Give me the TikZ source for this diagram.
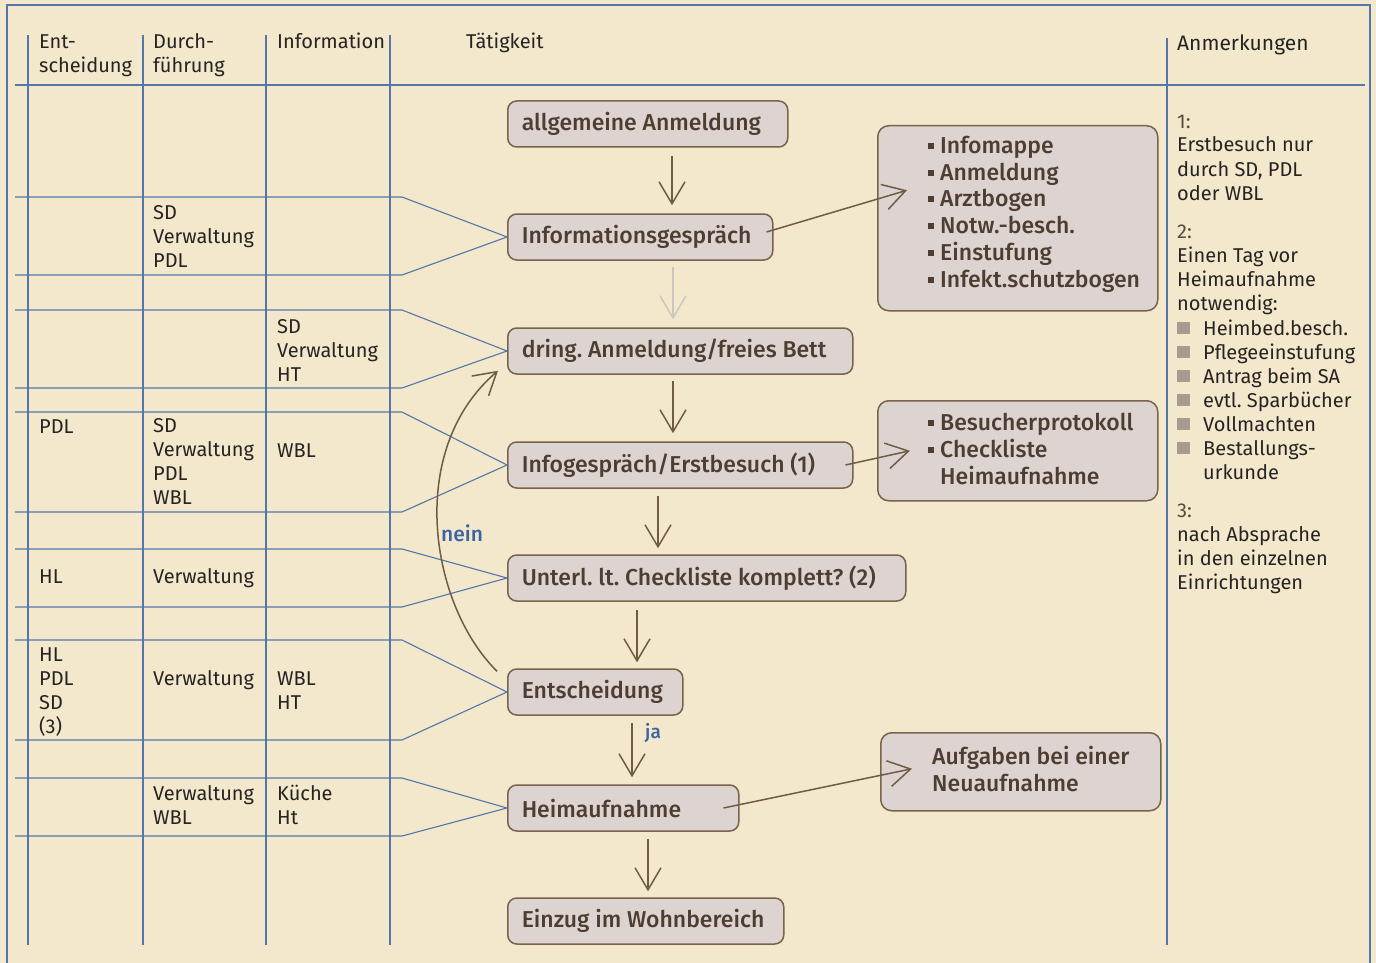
\documentclass[tikz,border=0pt]{standalone}
\usepackage{fontspec}
\setmainfont{Fira Sans}
\newfontfamily\boxfont{Fira Sans Medium}
\usetikzlibrary{arrows.meta}
\definecolor{bg}{RGB}{243,231,204}
\definecolor{gridblue}{RGB}{84,118,172}
\definecolor{boxfill}{RGB}{221,212,210}
\definecolor{boxline}{RGB}{120,100,76}
\definecolor{boxtext}{RGB}{78,62,50}
\definecolor{tabtext}{RGB}{38,36,34}
\definecolor{arrowc}{RGB}{112,92,68}
\definecolor{labblue}{RGB}{60,100,165}
\definecolor{sqc}{RGB}{168,154,142}
\definecolor{numc}{RGB}{92,74,56}
\newcommand\boxtxt[2]{\makebox[#1][l]{#2}}
\begin{document}
\frenchspacing
\begin{tikzpicture}[x=1pt,y=-1pt,
  grid/.style={draw=gridblue, line width=1.1pt},
  tab/.style={anchor=base west, inner sep=0pt, font=\fontsize{20}{24}\selectfont, text=tabtext, align=left},
  note/.style={tab, font=\fontsize{20}{24}\selectfont},
  tbox/.style={draw=boxline, fill=boxfill, rounded corners=9pt, line width=1.5pt, minimum height=46pt, anchor=west, inner xsep=14pt, font=\boxfont\fontsize{23}{26}\selectfont, text=boxtext},
  sbox/.style={draw=boxline, fill=boxfill, rounded corners=11pt, line width=1.5pt, anchor=north west, inner sep=0pt},
  stxt/.style={anchor=base west, inner sep=0pt, font=\boxfont\fontsize{23}{26.7}\selectfont, text=boxtext, align=left},
  flow/.style={draw=arrowc, line width=1.5pt, -{Straight Barb[length=22pt,width=26pt]}},
  bul/.style={fill=boxtext},
  sq/.style={fill=sqc}
]
\fill[bg] (0,0) rectangle (1376,963);
\useasboundingbox (0,0) rectangle (1376,963);

% frame and columns
\draw[grid] (7,963) -- (7,5) -- (1370,5) -- (1370,963);
\draw[grid] (15,85) -- (1365,85);
\foreach \x in {28,143,266,390} \draw[grid] (\x,35) -- (\x,945);
\draw[grid] (1167,38) -- (1167,945);

% header (base = last line)
\node[tab] (h1) at (39,73) {Ent-\\scheidung};
\node[tab] (h2) at (153,73) {Durch-\\führung};
\node[tab] (h3) at (277,49) {Information};
\node[tab] (h4) at (466,49) {Tätigkeit};
\node[tab, font=\fontsize{21}{24}\selectfont] (h5) at (1177,51) {Anmerkungen};

% main boxes
\node[tbox] (b1) at (507,124) {\boxtxt{252pt}{allgemeine Anmeldung}};
\node[tbox] (b2) at (507,237) {\boxtxt{237pt}{Informationsgespräch}};
\node[tbox] (b3) at (507,351) {\boxtxt{317pt}{dring. Anmeldung/freies Bett}};
\node[tbox] (b4) at (507,465) {\boxtxt{317pt}{Infogespräch/Erstbesuch (1)}};
\node[tbox] (b5) at (507,578) {\boxtxt{370pt}{Unterl. lt. Checkliste komplett? (2)}};
\node[tbox] (b6) at (507,692) {\boxtxt{147pt}{Entscheidung}};
\node[tbox] (b7) at (507,808) {\boxtxt{203pt}{Heimaufnahme}};
\node[tbox] (b8) at (507,921) {\boxtxt{248pt}{Einzug im Wohnbereich}};

% row connector lines
\draw[grid] (15,197) -- (402,197) -- (b2.west) -- (402,275) -- (15,275);
\draw[grid] (15,310) -- (402,310) -- (b3.west) -- (402,388) -- (15,388);
\draw[grid] (15,412) -- (402,412) -- (b4.west) -- (402,512) -- (15,512);
\draw[grid] (15,549) -- (402,549) -- (b5.west) -- (402,607) -- (15,607);
\draw[grid] (15,640) -- (402,640) -- (b6.west) -- (402,740) -- (15,740);
\draw[grid] (15,778) -- (402,778) -- (b7.west) -- (402,836) -- (15,836);

% table texts (base = last line)
\node[tab] (r2b) at (153,267) {SD\\Verwaltung\\PDL};
\node[tab] (r3c) at (277,381) {SD\\Verwaltung\\HT};
\node[tab] (r4a) at (39,433) {PDL};
\node[tab] (r4b) at (153,504) {SD\\Verwaltung\\PDL\\WBL};
\node[tab] (r4c) at (277,457) {WBL};
\node[tab] (r5a) at (39,583) {HL};
\node[tab] (r5b) at (153,583) {Verwaltung};
\node[tab] (r6a) at (39,733) {HL\\PDL\\SD\\(3)};
\node[tab] (r6b) at (153,685) {Verwaltung};
\node[tab] (r6c) at (277,709) {WBL\\HT};
\node[tab] (r7b) at (153,824) {Verwaltung\\WBL};
\node[tab] (r7c) at (277,824) {Küche\\Ht};

% side boxes
\node[sbox, minimum width=280pt, minimum height=185pt] (s1) at (877,125) {};
\node[stxt] (s1t) at (940,287) {Infomappe\\Anmeldung\\Arztbogen\\Notw.-besch.\\Einstufung\\Infekt.schutzbogen};
\foreach \y in {145,171.7,198.4,225.1,251.8,278.5} \fill[bul] (928,\y-2) rectangle (934,\y+4);
\node[sbox, minimum width=280pt, minimum height=100pt] (s2) at (877,400) {};
\node[stxt] (s2t) at (940,484) {Besucherprotokoll\\Checkliste\\Heimaufnahme};
\foreach \y in {422,448.7} \fill[bul] (928,\y-2) rectangle (934,\y+4);
\node[sbox, minimum width=280pt, minimum height=78pt] (s3) at (880,732) {};
\node[stxt] (s3t) at (932,791) {Aufgaben bei einer\\Neuaufnahme};

% flow arrows
\coordinate (ax1) at (672,0);
\coordinate (ax2) at (673,0);
\coordinate (ax3) at (673,0);
\coordinate (ax4) at (658,0);
\coordinate (ax5) at (637,0);
\coordinate (ax6) at (632,0);
\coordinate (ax7) at (648,0);
\draw[flow, shorten <=8pt, shorten >=8pt] (b1.south -| ax1) -- (b2.north -| ax1);
\draw[flow, draw=arrowc!35, shorten <=6pt, shorten >=8pt] (b2.south -| ax2) -- (b3.north -| ax2);
\draw[flow, shorten <=6pt, shorten >=8pt] (b3.south -| ax3) -- (b4.north -| ax3);
\draw[flow, shorten <=7pt, shorten >=6pt] (b4.south -| ax4) -- (b5.north -| ax4);
\draw[flow, shorten <=8pt, shorten >=6pt] (b5.south -| ax5) -- (b6.north -| ax5);
\draw[flow, shorten <=7pt, shorten >=7pt] (b6.south -| ax6) -- (b7.north -| ax6);
\draw[flow, shorten <=7pt, shorten >=6pt] (b7.south -| ax7) -- (b8.north -| ax7);

% side arrows
\draw[flow] ([shift={(-7,-5)}]b2.east) -- ([shift={(30,-28)}]s1.west);
\draw[flow] ([shift={(-8,0)}]b4.east) -- ([shift={(33,0)}]s2.west);
\draw[flow] ([shift={(-16,0)}]b7.east) -- ([shift={(32,-3)}]s3.west);

% nein loop
\draw[flow] ([shift={(-10,3)}]b6.north west) .. controls (430,605) and (405,450) .. ([shift={(-9,-4)}]b3.south west);
\node[anchor=base west, inner sep=0pt, text=labblue, font=\boxfont\fontsize{21}{24}\selectfont] (nein) at (441,541) {nein};
\node[anchor=base west, inner sep=0pt, text=labblue, font=\boxfont\fontsize{19}{24}\selectfont] (ja) at (645,738) {ja};

% notes (base = last line)
\node[note] (n1) at (1177,200) {\textcolor{numc}{1:}\\Erstbesuch nur\\durch SD, PDL\\oder WBL};
\node[note] (n2) at (1177,310) {\textcolor{numc}{2:}\\Einen Tag vor\\Heimaufnahme\\notwendig:};
\node[note] (n2l) at (1203,479) {Heimbed.besch.\\Pflegeeinstufung\\Antrag beim SA\\evtl. Sparbücher\\Vollmachten\\Bestallungs-\\urkunde};
\foreach \y in {328,352,376,400,424,448} \fill[sq] (1177,\y-6) rectangle (1190,\y+6);
\node[note] (n3) at (1177,589) {\textcolor{numc}{3:}\\nach Absprache\\in den einzelnen\\Einrichtungen};
\end{tikzpicture}
\end{document}
